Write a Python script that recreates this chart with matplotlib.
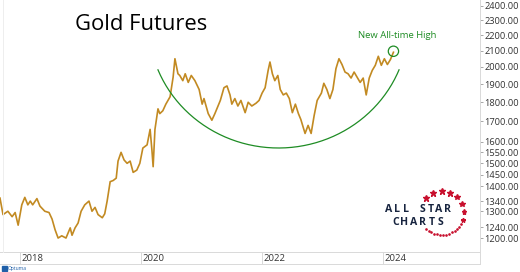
import numpy as np
import matplotlib
matplotlib.use("Agg")
import matplotlib.pyplot as plt
from matplotlib.patches import Rectangle
from matplotlib.lines import Line2D
from matplotlib.ticker import FixedLocator, FixedFormatter, NullLocator

# ---------------- data ----------------
years = [2017.67, 2017.72, 2017.80, 2017.87, 2017.92, 2017.97, 2018.03, 2018.08, 2018.13, 2018.17,
         2018.21, 2018.28, 2018.33, 2018.41, 2018.48, 2018.53, 2018.58, 2018.63, 2018.69, 2018.76,
         2018.83, 2018.86, 2018.91, 2018.96, 2019.01, 2019.07, 2019.14, 2019.19, 2019.24, 2019.29,
         2019.36, 2019.40, 2019.44, 2019.49, 2019.54, 2019.59, 2019.62, 2019.67, 2019.72, 2019.77,
         2019.82, 2019.87, 2019.93, 2019.98, 2020.03, 2020.10, 2020.15, 2020.18, 2020.20, 2020.23,
         2020.28, 2020.31, 2020.36, 2020.41, 2020.48, 2020.53, 2020.56, 2020.61, 2020.64, 2020.69,
         2020.73, 2020.78, 2020.83, 2020.89, 2020.96, 2021.01, 2021.04, 2021.11, 2021.17, 2021.22,
         2021.31, 2021.37, 2021.42, 2021.47, 2021.50, 2021.55, 2021.60, 2021.65, 2021.72, 2021.77,
         2021.83, 2021.90, 2021.95, 2022.00, 2022.05, 2022.10, 2022.13, 2022.17, 2022.21, 2022.26,
         2022.30, 2022.35, 2022.40, 2022.45, 2022.50, 2022.55, 2022.60, 2022.64, 2022.71, 2022.76,
         2022.81, 2022.86, 2022.91, 2022.98, 2023.02, 2023.07, 2023.12, 2023.17, 2023.22, 2023.27,
         2023.32, 2023.37, 2023.42, 2023.47, 2023.52, 2023.57, 2023.62, 2023.67, 2023.72, 2023.77,
         2023.82, 2023.87, 2023.92, 2023.97, 2024.02, 2024.07, 2024.12, 2024.17]
prices = [1352, 1287, 1300, 1279, 1295, 1247, 1325, 1355, 1325, 1340,
          1325, 1350, 1320, 1300, 1295, 1270, 1230, 1200, 1208, 1200,
          1237, 1210, 1237, 1255, 1300, 1325, 1340, 1300, 1315, 1287,
          1275, 1290, 1340, 1420, 1425, 1435, 1510, 1550, 1515, 1500,
          1510, 1460, 1470, 1500, 1570, 1585, 1660, 1560, 1485, 1660,
          1765, 1740, 1755, 1790, 1830, 1940, 2050, 1960, 1950, 1920,
          1960, 1910, 1950, 1920, 1870, 1790, 1820, 1740, 1706, 1740,
          1810, 1880, 1890, 1840, 1790, 1820, 1780, 1810, 1745, 1800,
          1780, 1795, 1810, 1850, 1880, 1980, 2030, 1960, 1920, 1950,
          1870, 1840, 1850, 1820, 1745, 1790, 1740, 1710, 1640, 1680,
          1640, 1730, 1810, 1850, 1905, 1870, 1820, 1870, 1990, 2050,
          2015, 1970, 1960, 1935, 1970, 1940, 1910, 1935, 1840, 1935,
          1980, 2010, 2065, 2010, 2050, 2015, 2045, 2090]

y_ticks = [1200, 1240, 1300, 1340, 1400, 1450, 1500, 1550, 1600, 1700,
           1800, 1900, 2000, 2100, 2200, 2300, 2400]
x_ticks = [2018, 2020, 2022, 2024]
x_labels = ["2018", "2020", "2022", "2024"]

title = "Gold Futures"
note = "New All-time High"

# ---------------- style ----------------
W, H = 520, 272
GOLD = "#C28A22"
GREEN = "#1E8C24"
GRID = "#D9D9D9"
FONT = ["Open Sans", "DejaVu Sans"]
plt.rcParams["font.family"] = FONT

fig = plt.figure(figsize=(W / 100, H / 100), dpi=100)
fig.patch.set_facecolor("white")

def fx(px):
    return px / W

def fy(py):
    return 1 - py / H

# main axes
ax = fig.add_axes([0, fy(252), fx(480), 252 / H])
ax.plot(years, prices, color=GOLD, lw=1.2, solid_joinstyle="round")
ax.set_yscale("log")
ax.set_ylim(1151, 2443)
ax.set_xlim(2017.67, 2025.60)
ax.yaxis.set_major_locator(FixedLocator(y_ticks))
ax.yaxis.set_major_formatter(FixedFormatter([f"{v:.2f}" for v in y_ticks]))
ax.yaxis.set_minor_locator(NullLocator())
ax.yaxis.tick_right()
ax.tick_params(axis="y", length=2.2, width=0.6, color="#999999", pad=1,
               labelsize=6.7, labelcolor="#333333")
ax.set_xticks([])
for s in ["top", "left"]:
    ax.spines[s].set_visible(False)
ax.spines["right"].set_color(GRID)
ax.spines["right"].set_linewidth(0.7)
ax.spines["bottom"].set_color(GRID)
ax.spines["bottom"].set_linewidth(0.7)

# all-time-high circle on last point
ax.scatter([years[-1]], [prices[-1] * 1.003], s=55, facecolors="none",
           edgecolors=GREEN, linewidths=0.9, zorder=5)
ax.text(years[-1] + 0.06, 2195, note, color=GREEN, fontsize=6.8,
        ha="center", va="center")

# band axes for x labels
axb = fig.add_axes([0, fy(264), fx(480), 12 / H], sharex=ax)
axb.set_ylim(0, 1)
axb.set_yticks([])
axb.tick_params(axis="x", which="both", bottom=False, labelbottom=False)
axb.spines["left"].set_visible(False)
for s in ["top", "bottom", "right"]:
    axb.spines[s].set_color(GRID)
    axb.spines[s].set_linewidth(0.7)
for xv, lab in zip(x_ticks, x_labels):
    axb.axvline(xv, color=GRID, lw=0.7)
    axb.text(xv + 0.03, 0.45, lab, fontsize=6.8, color="#333333",
             ha="left", va="center")

# title
fig.text(fx(141), fy(25), title, fontsize=15.8, color="black",
         ha="center", va="center")

# green arc (lower part of an ellipse), drawn in figure pixels
acx, acy, aa, ab = 278.5, 23.0, 130.0, 125.0
t = np.deg2rad(np.linspace(202, 338, 200))
arc_x = [fx(acx + aa * np.cos(v)) for v in t]
arc_y = [fy(acy - ab * np.sin(v)) for v in t]
fig.add_artist(Line2D(arc_x, arc_y, color=GREEN, lw=0.9, transform=fig.transFigure))

# logo
NAVY = "#17243F"
RED = "#C8102E"
for i, ch in enumerate("ALL STAR"):
    fig.text(fx(389 + i * 8.3), fy(210), ch, fontsize=7.6, fontweight="bold",
             color=NAVY, ha="center", va="center")
for i, ch in enumerate("CHARTS"):
    fig.text(fx(395.5 + i * 9.0), fy(222.5), ch, fontsize=7.6, fontweight="bold",
             color=NAVY, ha="center", va="center")
cx, cy, r = 442, 213, 22
star_ang = np.deg2rad([137, 114, 90, 68, 46, 24, 3, -18])
star_sz = [15, 15, 15, 14, 13, 12, 11, 10]
for a, s_ in zip(star_ang, star_sz):
    fig.add_artist(Line2D([fx(cx + r * np.cos(a))], [fy(cy - r * np.sin(a))],
                          marker="*", markersize=s_ / 3.0,
                          color=RED, transform=fig.transFigure, lw=0))
dot_ang = np.deg2rad(np.linspace(-30, -135, 14))
for a in dot_ang:
    fig.add_artist(Line2D([fx(cx + r * np.cos(a))], [fy(cy - r * np.sin(a))],
                          marker="o", markersize=0.9, color=RED,
                          transform=fig.transFigure, lw=0))

# Optuma mark
fig.add_artist(Rectangle((fx(1.5), fy(271)), 5 / W, 5 / H, transform=fig.transFigure,
                         color="#1F5FA8"))
fig.text(fx(8), fy(268.5), "Optuma", fontsize=3.6, color="#1F5FA8",
         ha="left", va="center")

# faint left border
fig.add_artist(Line2D([fx(2.5), fx(2.5)], [fy(252), 1], color="#EEEEEE",
                      lw=0.7, transform=fig.transFigure))

fig.savefig("out.png", dpi=100, facecolor="white")
